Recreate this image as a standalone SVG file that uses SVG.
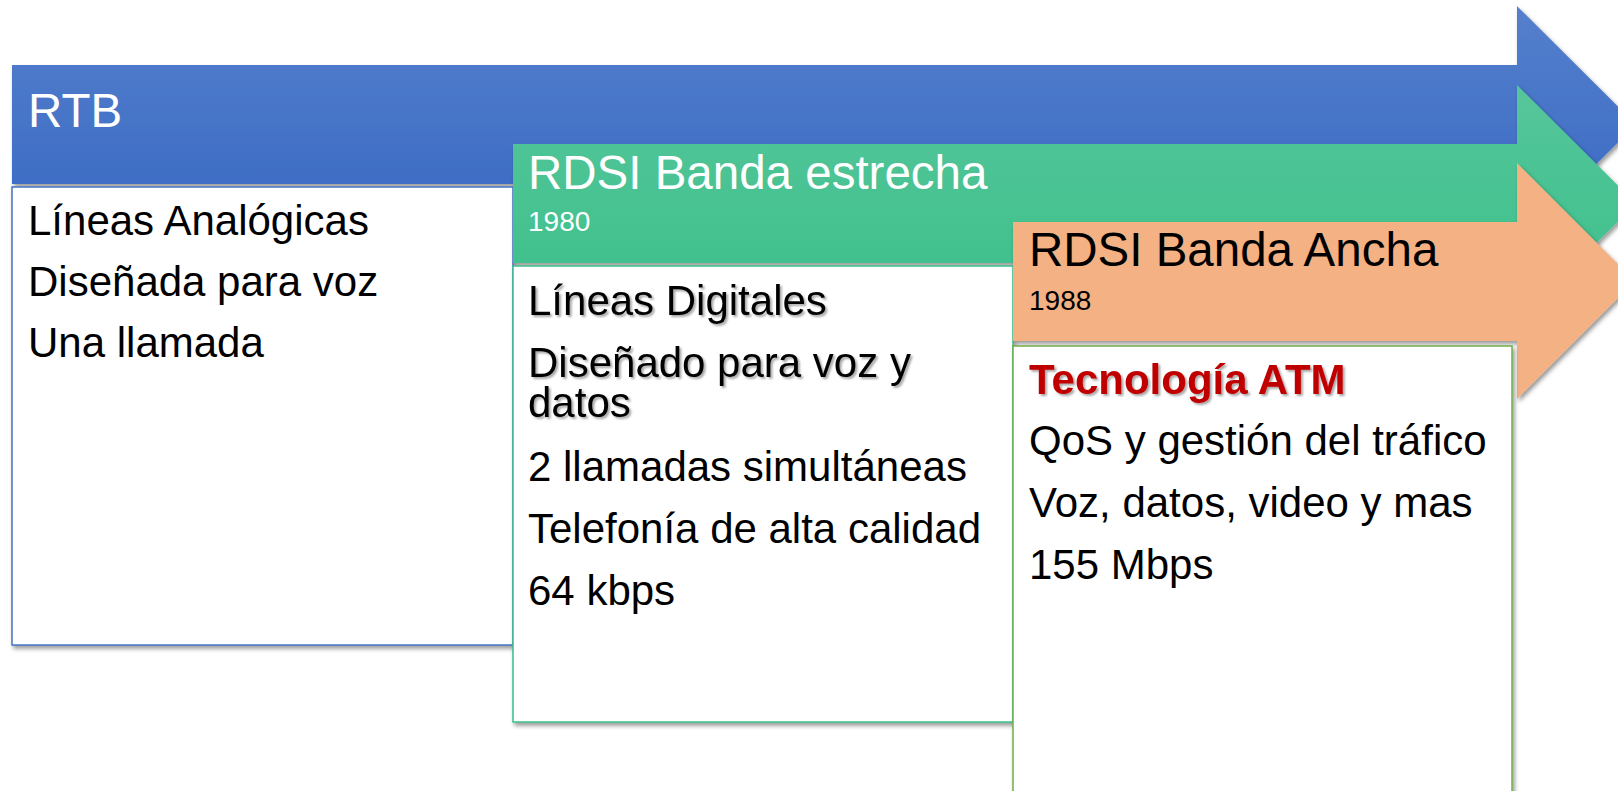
<svg xmlns="http://www.w3.org/2000/svg" width="1618" height="791" viewBox="0 0 1618 791">
<defs>
<linearGradient id="gBlue" x1="0" y1="0" x2="0" y2="1"><stop offset="0" stop-color="#5580CC"/><stop offset="1" stop-color="#3767C3"/></linearGradient>
<linearGradient id="gGreen" x1="0" y1="0" x2="0" y2="1"><stop offset="0" stop-color="#56C69A"/><stop offset="1" stop-color="#3ABF8A"/></linearGradient>
<filter id="sh" x="-5%" y="-5%" width="115%" height="120%"><feDropShadow dx="2" dy="3" stdDeviation="2" flood-color="#000" flood-opacity="0.4"/></filter>
<filter id="tsh" x="-5%" y="-20%" width="110%" height="150%"><feDropShadow dx="2" dy="2" stdDeviation="1.2" flood-color="#000" flood-opacity="0.35"/></filter>
</defs>
<style>
.title{font-family:"Liberation Sans",Arial,sans-serif;font-size:47.5px}
.year{font-family:"Liberation Sans",Arial,sans-serif;font-size:28px}
.body{font-family:"Liberation Sans",Arial,sans-serif;font-size:42px;fill:#000}
.box{fill:#fff;stroke-width:1.5}
</style>
<rect width="1618" height="791" fill="#fff"/>
<g id="rtb">
<polygon points="12,65 1517,65 1517,6 1636,124.5 1517,243 1517,184 12,184" fill="url(#gBlue)" filter="url(#sh)"/>
<rect class="box" x="12" y="187" width="501" height="458" stroke="#4472C4" filter="url(#sh)"/>
<text class="title" x="28" y="127" fill="#fff">RTB</text>
<text class="body" x="28" y="235">Líneas Analógicas</text>
<text class="body" x="28" y="296">Diseñada para voz</text>
<text class="body" x="28" y="357">Una llamada</text>
</g>
<g id="rdsi-estrecha">
<polygon points="513,144 1517,144 1517,85 1636,203.5 1517,322 1517,263 513,263" fill="url(#gGreen)" filter="url(#sh)"/>
<rect class="box" x="513" y="266" width="500" height="456" stroke="#3BBF8A" filter="url(#sh)"/>
<text class="title" x="528" y="189" fill="#fff">RDSI Banda estrecha</text>
<text class="year" x="528" y="231" fill="#fff">1980</text>
<g filter="url(#tsh)">
<text class="body" x="528" y="315">Líneas Digitales</text>
<text class="body" x="528" y="377">Diseñado para voz y</text>
<text class="body" x="528" y="417">datos</text>
</g>
<text class="body" x="528" y="481">2 llamadas simultáneas</text>
<text class="body" x="528" y="543">Telefonía de alta calidad</text>
<text class="body" x="528" y="605">64 kbps</text>
</g>
<g id="rdsi-ancha">
<polygon points="1013,222 1517,222 1517,163 1635,281 1517,399 1517,341 1013,341" fill="#F4B183" filter="url(#sh)"/>
<rect class="box" x="1013" y="346" width="499" height="470" stroke="#70AD47" filter="url(#sh)"/>
<text class="title" x="1029" y="266" fill="#000">RDSI Banda Ancha</text>
<text class="year" x="1029" y="310" fill="#000">1988</text>
<text class="body" x="1029" y="394" font-weight="bold" style="fill:#C00000" filter="url(#tsh)">Tecnología ATM</text>
<text class="body" x="1029" y="455">QoS y gestión del tráfico</text>
<text class="body" x="1029" y="517">Voz, datos, video y mas</text>
<text class="body" x="1029" y="579">155 Mbps</text>
</g>
<g id="connectors"/>
</svg>
